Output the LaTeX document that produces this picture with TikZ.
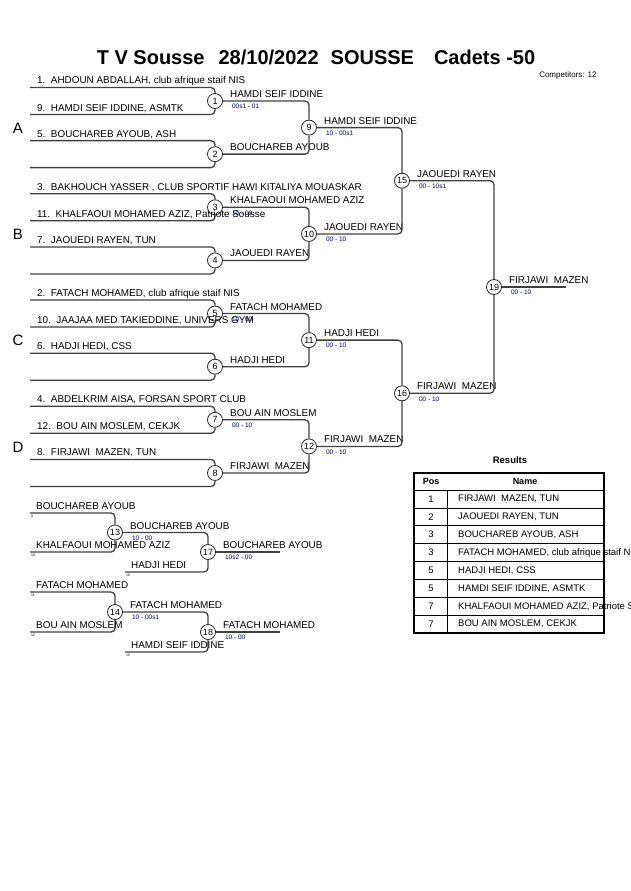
\documentclass[tikz,border=0pt]{standalone}
\usepackage{fontspec}
\setmainfont{Liberation Sans}
\tikzset{fight/.style={circle,draw=black!85,fill=white,line width=.8pt,minimum size=15pt,inner sep=0pt,font=\fontsize{9}{9}\selectfont},
 wire/.style={draw=black!75,line width=1.3pt,rounded corners=4pt},
 comp/.style={anchor=base west,inner sep=0pt,font=\fontsize{9.9}{10}\selectfont},
 score/.style={anchor=north west,inner sep=0pt,text=blue!35!black,font=\fontsize{6.5}{7}\selectfont},
 seed/.style={anchor=north west,inner sep=0pt,font=\fontsize{3.5}{4}\selectfont},
 pool/.style={font=\fontsize{15}{15}\selectfont},
 cell/.style={inner sep=0pt,font=\fontsize{9.5}{10}\selectfont},
 head/.style={inner sep=0pt,font=\fontsize{9}{10}\selectfont\bfseries},
 }

\begin{document}
\begin{tikzpicture}[x=1pt,y=-1pt]
    \clip (0,0) rectangle (630,891);
    \node[font=\fontsize{20}{22}\selectfont\bfseries] (title) at (316,57) {T V Sousse\hspace{14pt}28/10/2022\hspace{12pt}SOUSSE\hspace{20pt}Cadets -50};
    \node[anchor=east,font=\fontsize{8}{9}\selectfont] (total) at (600,75) {Competitors: 12};

    \foreach \p[count=\i] in {A,B,C,D}
        \node[pool] (pool\p) at (18,{128+106.3*(\i-1)}) {\p};

    \foreach \a/\b/\w[count=\i] in {
        {1.\ \ AHDOUN ABDALLAH, club afrique staif NIS}/{9.\ \ HAMDI SEIF IDDINE, ASMTK}/{HAMDI SEIF IDDINE},
        {5.\ \ BOUCHAREB AYOUB, ASH}/{}/{BOUCHAREB AYOUB},
        {3.\ \ BAKHOUCH YASSER , CLUB SPORTIF HAWI KITALIYA MOUASKAR}/{11.\ \ KHALFAOUI MOHAMED AZIZ, Patriote Sousse}/{KHALFAOUI MOHAMED AZIZ},
        {7.\ \ JAOUEDI RAYEN, TUN}/{}/{JAOUEDI RAYEN},
        {2.\ \ FATACH MOHAMED, club afrique staif NIS}/{10.\ \ JAAJAA MED TAKIEDDINE, UNIVERS GYM}/{FATACH MOHAMED},
        {6.\ \ HADJI HEDI, CSS}/{}/{HADJI HEDI},
        {4.\ \ ABDELKRIM AISA, FORSAN SPORT CLUB}/{12.\ \ BOU AIN MOSLEM, CEKJK}/{BOU AIN MOSLEM},
        {8.\ \ FIRJAWI\ \ MAZEN, TUN}/{}/{FIRJAWI\ \ MAZEN}} {
        \pgfmathsetmacro\ty{87.5+53.14*(\i-1)}
        \coordinate (a\i) at (30,\ty);
        \coordinate (b\i) at (30,\ty+27);
        \node[fight] (m\i) at (215,\ty+13.5) {\i};
        \draw[wire] (a\i) -| (m\i);
        \draw[wire] (b\i) -| (m\i);
        \node[comp] (na\i) at (37,\ty-3.5) {\a};
        \node[comp] (nb\i) at (37,\ty+23.5) {\b};
        \node[comp] (w\i) at (230,\ty+10) {\w};
    }
    \foreach \k/\s in {1/{00s1 - 01},3/{10 - 00},5/{10 - 00},7/{00 - 10}}
        \node[score] (s\k) at ([xshift=9pt,yshift=-3pt]m\k.east) {\s};

    \foreach \k/\x/\y/\p/\q/\w/\s in {
        9/309/127.6/1/2/{HAMDI SEIF IDDINE}/{10 - 00s1},
        10/309/233.9/3/4/{JAOUEDI RAYEN}/{00 - 10},
        11/309/340.1/5/6/{HADJI HEDI}/{00 - 10},
        12/309/446.4/7/8/{FIRJAWI\ \ MAZEN}/{00 - 10},
        15/402/180.7/9/10/{JAOUEDI RAYEN}/{00 - 10s1},
        16/402/393.3/11/12/{FIRJAWI\ \ MAZEN}/{00 - 10},
        19/494/287/15/16/{FIRJAWI\ \ MAZEN}/{00 - 10}} {
        \node[fight] (m\k) at (\x,\y) {\k};
        \draw[wire] (m\p) -| (m\k);
        \draw[wire] (m\q) -| (m\k);
        \node[comp] (w\k) at ([xshift=7pt,yshift=3.5pt]m\k.east) {\w};
        \node[score] (s\k) at ([xshift=9pt,yshift=-3pt]m\k.east) {\s};
    }
    \coordinate (champ) at (566,287);
    \draw[wire] (m19) -- (champ);

    % repechage
    \foreach \c/\y in {rA/513,rB/552,rD/592,rE/632}
        \coordinate (\c) at (30,\y);
    \coordinate (rC) at (125,572);
    \coordinate (rF) at (125,652);
    \node[fight] (m13) at (115,532.5) {13};
    \node[fight] (m14) at (115,612) {14};
    \node[fight] (m17) at (208,552) {17};
    \node[fight] (m18) at (208,632) {18};
    \draw[wire] (rA) -| (m13);
    \draw[wire] (rB) -| (m13);
    \draw[wire] (rD) -| (m14);
    \draw[wire] (rE) -| (m14);
    \draw[wire] (m13) -| (m17);
    \draw[wire] (rC) -| (m17);
    \draw[wire] (m14) -| (m18);
    \draw[wire] (rF) -| (m18);
    \coordinate (bronzeA) at (280,552);
    \coordinate (bronzeB) at (280,632);
    \draw[wire] (m17) -- (bronzeA);
    \draw[wire] (m18) -- (bronzeB);
    \foreach \c/\t/\n in {rA/{BOUCHAREB AYOUB}/9,rB/{KHALFAOUI MOHAMED AZIZ}/10,rC/{HADJI HEDI}/16,
        rD/{FATACH MOHAMED}/11,rE/{BOU AIN MOSLEM}/12,rF/{HAMDI SEIF IDDINE}/15} {
        \node[comp] (t\c) at ([xshift=6pt,yshift=3.5pt]\c) {\t};
        \node[seed] (n\c) at ([xshift=1pt,yshift=-1.5pt]\c) {\n};
    }
    \foreach \k/\w/\s in {13/{BOUCHAREB AYOUB}/{10 - 00},14/{FATACH MOHAMED}/{10 - 00s1},
        17/{BOUCHAREB AYOUB}/{10s2 - 00},18/{FATACH MOHAMED}/{10 - 00}} {
        \node[comp] (w\k) at ([xshift=7pt,yshift=3.5pt]m\k.east) {\w};
        \node[score] (s\k) at ([xshift=9pt,yshift=-3pt]m\k.east) {\s};
    }

    % results
    \node[font=\fontsize{9.5}{10}\selectfont\bfseries] (results) at (510,460) {Results};
    \draw[line width=1.5pt] (414,473) rectangle (604,633);
    \foreach \r in {0,...,7}
        \draw[line width=.7pt] (414,{490+17.9*\r}) -- (604,{490+17.9*\r});
    \draw[line width=.7pt] (447,490) -- (447,633);
    \node[head] (hpos) at (431,481.5) {Pos};
    \node[head] (hname) at (525,481.5) {Name};
    \foreach \p/\n[count=\r] in {1/{FIRJAWI\ \ MAZEN, TUN},2/{JAOUEDI RAYEN, TUN},3/{BOUCHAREB AYOUB, ASH},
        3/{FATACH MOHAMED, club afrique staif NIS},5/{HADJI HEDI, CSS},5/{HAMDI SEIF IDDINE, ASMTK},
        7/{KHALFAOUI MOHAMED AZIZ, Patriote Sousse},7/{BOU AIN MOSLEM, CEKJK}} {
        \node[cell] (pos\r) at (431,{481+17.9*\r}) {\p};
        \node[cell,anchor=west] (name\r) at (458,{481+17.9*\r}) {\n};
    }
\end{tikzpicture}
\end{document}
